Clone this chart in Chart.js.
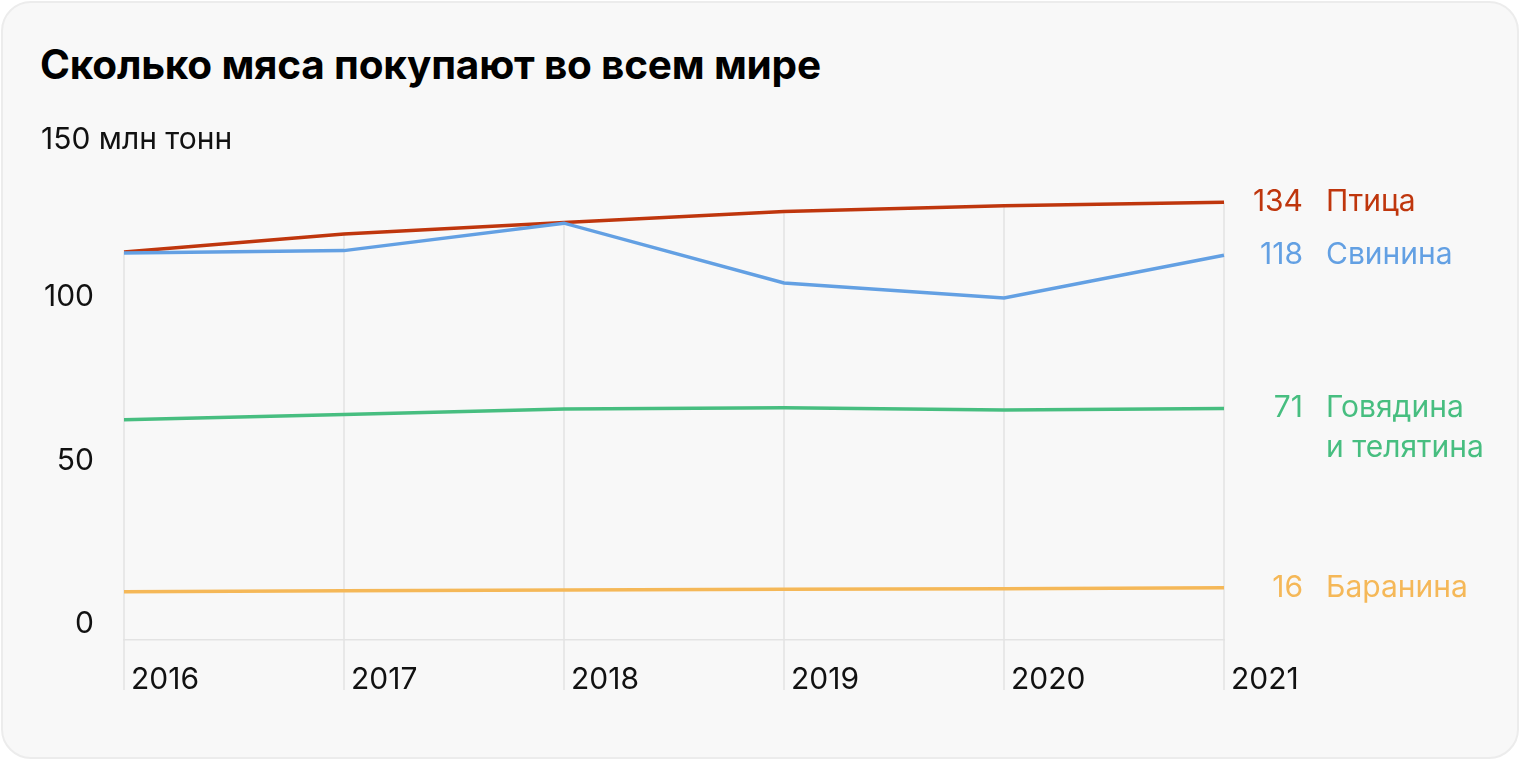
<!DOCTYPE html>
<html lang="ru">
<head>
<meta charset="utf-8">
<title>Сколько мяса покупают во всем мире</title>
<script src="https://cdn.jsdelivr.net/npm/chart.js@4/dist/chart.umd.min.js"></script>
<style>
  html, body { margin: 0; padding: 0; background: #ffffff; }
  body { width: 1520px; height: 760px; position: relative; overflow: hidden; font-family: Inter, "Noto Sans", sans-serif; }
  .card {
    position: absolute; left: 1px; top: 1px; width: 1514px; height: 754px;
    background: #f8f8f8; border: 2px solid #ececec; border-radius: 30px;
  }
  h1 {
    position: absolute; left: 40px; top: 40px; margin: 0;
    font-size: 40.5px; line-height: 50px; font-weight: 700; color: #000;
    letter-spacing: -0.2px;
  }
  #chart { position: absolute; left: 0; top: 0; }
</style>
</head>
<body>
<div class="card"></div>
<h1>Сколько мяса покупают во всем мире</h1>
<canvas id="chart" width="1520" height="760"></canvas>
<script>
// данные, млн тонн
const years = ['2016', '2017', '2018', '2019', '2020', '2021'];
const ptitsa   = [118.8, 124.3, 127.8, 131.2, 132.9, 134];
const svinina  = [118.5, 119.2, 127.6, 109.3, 104.7, 117.8];
const govyadina = [67.4, 69.0, 70.7, 71.1, 70.4, 70.9];
const baranina = [14.8, 15.1, 15.3, 15.5, 15.7, 16.0];
const yTicks = [0, 50, 100, 150];
const unitLabel = 'млн тонн';

const seriesNames = [['Баранина'], ['Говядина', 'и телятина'], ['Свинина'], ['Птица']];
const seriesColors = ['#f5b858', '#47be80', '#63a0e3', '#bf360d'];
const seriesData = [baranina, govyadina, svinina, ptitsa];

Chart.defaults.font.family = 'Inter, "Noto Sans", sans-serif';
Chart.defaults.color = '#111';

const GRID = '#e3e3e3';
const yMax = yTicks[yTicks.length - 1];

// вертикальные линии от верхней точки до подписи года
const dropLines = {
  id: 'dropLines',
  beforeDatasetsDraw(chart) {
    const { ctx, scales: { x, y }, chartArea } = chart;
    ctx.save();
    ctx.strokeStyle = GRID;
    ctx.lineWidth = 1.5;
    years.forEach((yr, i) => {
      const top = Math.max(...seriesData.map(s => s[i]));
      const px = x.getPixelForValue(i);
      ctx.beginPath();
      ctx.moveTo(px, y.getPixelForValue(top));
      ctx.lineTo(px, chartArea.bottom + 50);
      ctx.stroke();
    });
    ctx.restore();
  }
};

// подписи справа от линий + верхняя метка с единицей
const endLabels = {
  id: 'endLabels',
  afterDatasetsDraw(chart) {
    const { ctx } = chart;
    ctx.save();
    ctx.font = '30px ' + Chart.defaults.font.family;
    ctx.textBaseline = 'middle';
    chart.data.datasets.forEach((ds, di) => {
      const meta = chart.getDatasetMeta(di);
      const pt = meta.data[meta.data.length - 1];
      const val = ds.data[ds.data.length - 1];
      ctx.fillStyle = ds.borderColor;
      ctx.textAlign = 'right';
      ctx.fillText(String(Math.round(val)), pt.x + 79, pt.y);
      ctx.textAlign = 'left';
      seriesNames[di].forEach((line, li) => {
        ctx.fillText(line, pt.x + 102, pt.y + li * 40);
      });
    });
    const yS = chart.scales.y;
    ctx.fillStyle = '#111';
    ctx.textAlign = 'left';
    ctx.fillText(yMax + ' ' + unitLabel, 41, yS.getPixelForValue(yMax) - 10);
    ctx.restore();
  }
};

new Chart(document.getElementById('chart'), {
  type: 'line',
  data: {
    labels: years,
    datasets: seriesData.map((d, i) => ({
      label: seriesNames[i].join(' '),
      data: d,
      borderColor: seriesColors[i],
      backgroundColor: seriesColors[i],
      borderWidth: 3.5,
      pointRadius: 0,
      pointHoverRadius: 0,
      tension: 0,
      fill: false
    }))
  },
  options: {
    responsive: false,
    animation: false,
    layout: { padding: { top: 150, right: 296, left: 0, bottom: 0 } },
    plugins: { legend: { display: false }, tooltip: { enabled: false } },
    scales: {
      x: {
        grid: { drawOnChartArea: false, drawTicks: false },
        border: { display: true, color: GRID, width: 1.5 },
        ticks: { align: 'start', labelOffset: 7, padding: 22, maxRotation: 0, autoSkip: false,
                 font: { size: 30 }, color: '#111' },
        afterFit: s => { s.height = 120; }
      },
      y: {
        min: 0, max: yMax,
        afterBuildTicks: s => { s.ticks = yTicks.map(v => ({ value: v })); },
        grid: { display: false, drawTicks: false },
        border: { display: false },
        ticks: { padding: 30, labelOffset: -16, font: { size: 30 }, color: '#111',
                 callback: v => (v === yMax ? '' : v) },
        afterFit: s => { s.width = 124; }
      }
    }
  },
  plugins: [dropLines, endLabels]
});
</script>
</body>
</html>
